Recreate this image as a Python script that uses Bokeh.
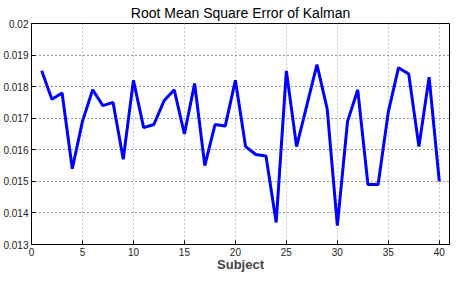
from bokeh.plotting import figure
from bokeh.models import Range1d, FixedTicker
from bokeh.embed import file_html
from bokeh.resources import INLINE

subjects = list(range(1, 41))
rmse = [0.0185, 0.0176, 0.0178, 0.0154, 0.0169, 0.0179, 0.0174, 0.0175, 0.0157, 0.0182,
        0.0167, 0.0168, 0.01755, 0.0179, 0.0165, 0.0181, 0.0155, 0.0168, 0.01675, 0.0182,
        0.0161, 0.01585, 0.0158, 0.0137, 0.0185, 0.0161, 0.0174, 0.0187, 0.0173, 0.0136,
        0.0169, 0.0179, 0.0149, 0.0149, 0.0172, 0.0186, 0.0184, 0.0161, 0.0183, 0.0150]

x_ticks = [0, 5, 10, 15, 20, 25, 30, 35, 40]
y_ticks = [0.013, 0.014, 0.015, 0.016, 0.017, 0.018, 0.019, 0.02]
y_tick_labels = ["0.013", "0.014", "0.015", "0.016", "0.017", "0.018", "0.019", "0.02"]

FONT = "Liberation Sans"

p = figure(width=450, height=274, output_backend="svg", toolbar_location=None,
           x_range=Range1d(0, 41), y_range=Range1d(0.013, 0.02),
           title="Root Mean Square Error of Kalman",
           min_border_left=0, min_border_right=1, min_border_top=0, min_border_bottom=0)

p.title.align = "center"
p.title.text_font = FONT
p.title.text_font_size = "14px"
p.title.text_font_style = "normal"
p.title.text_color = "black"
p.title.standoff = 5

p.line(subjects, rmse, line_color="#0000FF", line_width=3)

p.outline_line_color = "black"
p.outline_line_width = 1
p.background_fill_color = "white"
p.border_fill_color = "white"

ax = p.xaxis[0]
ax.ticker = FixedTicker(ticks=x_ticks)
ax.axis_label = "Subject"
ax.axis_label_text_font = FONT
ax.axis_label_text_font_size = "13px"
ax.axis_label_text_font_style = "bold"
ax.axis_label_text_line_height = 0.9
ax.axis_label_standoff = -2
ax.major_label_text_font = FONT
ax.major_label_text_font_size = "10px"
ax.major_label_text_line_height = 1.0
ax.major_label_text_color = "#222222"
ax.major_label_standoff = 3
ax.major_tick_in = 4
ax.major_tick_out = 0
ax.minor_tick_line_color = None
ax.axis_line_color = "black"
ax.major_tick_line_color = "black"

ay = p.yaxis[0]
ay.ticker = FixedTicker(ticks=y_ticks)
ay.major_label_overrides = {v: s for v, s in zip(y_ticks, y_tick_labels)}
ay.major_label_text_font = FONT
ay.major_label_text_font_size = "10px"
ay.major_label_text_color = "#222222"
ay.major_label_standoff = 3
ay.major_tick_in = 4
ay.major_tick_out = 0
ay.minor_tick_line_color = None
ay.axis_line_color = "black"
ay.major_tick_line_color = "black"

p.xgrid.ticker = FixedTicker(ticks=x_ticks)
p.ygrid.ticker = FixedTicker(ticks=y_ticks)
p.xgrid.grid_line_color = "#999999"
p.xgrid.grid_line_dash = "1 3"
p.ygrid.grid_line_color = "#333333"
p.ygrid.grid_line_dash = "1 3"

open("out.html", "w").write(file_html(p, INLINE))
